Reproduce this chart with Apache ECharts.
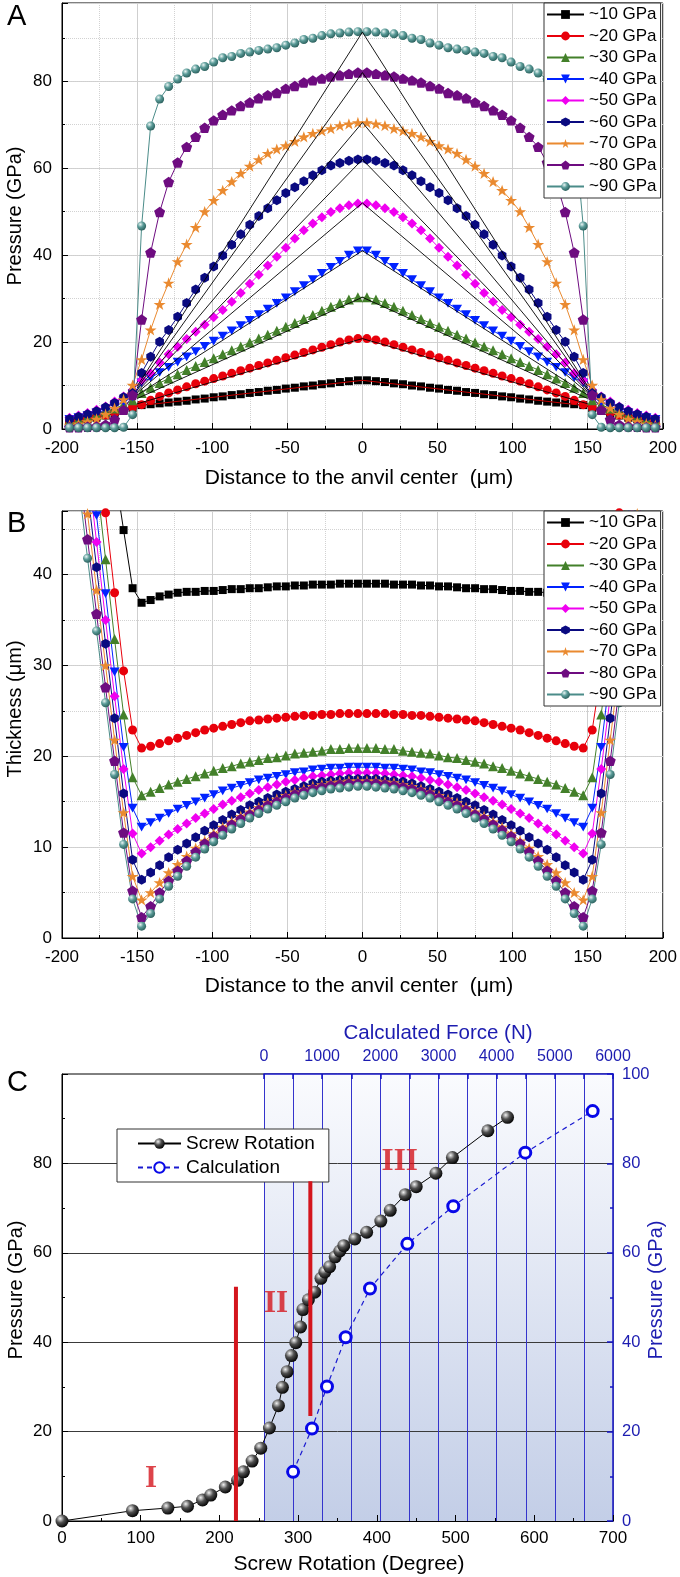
<!DOCTYPE html>
<html><head><meta charset="utf-8">
<script src="https://cdn.jsdelivr.net/npm/echarts@6/dist/echarts.min.js"></script>
<style>html,body{margin:0;padding:0;background:#fff}#c{width:680px;height:1577px}</style>
</head><body><div id="c"></div>
<script>
// ---------- DATA ----------
// distance from anvil centre (um), right half; left half is the mirror image
const X_HALF = [3,9,15,21,27,33,39,45,51,57,63,69,75,81,87,93,99,105,111,117,123,129,135,141,147,153,159,165,171,177,183,189,195];
const NAMES = ['~10 GPa','~20 GPa','~30 GPa','~40 GPa','~50 GPa','~60 GPa','~70 GPa','~80 GPa','~90 GPa'];

// Panel A: pressure (GPa) at X_HALF
const A_10 = [11.2,11.0,10.8,10.5,10.3,10.0,9.8,9.5,9.3,9.0,8.8,8.5,8.3,8.0,7.8,7.5,7.3,7.0,6.8,6.5,6.3,6.1,5.9,5.7,5.5,4.8,4.2,3.6,3.1,2.6,2.2,1.8,1.5];
const A_20 = [20.8,20.5,20.0,19.4,18.8,18.2,17.6,17.0,16.4,15.8,15.2,14.6,14.0,13.4,12.8,12.2,11.6,11.0,10.4,9.7,9.0,8.3,7.5,6.6,5.6,5.0,4.3,3.7,3.2,2.7,2.3,1.9,1.6];
const A_30 = [30.3,29.8,29.0,28.1,27.2,26.2,25.3,24.4,23.5,22.6,21.7,20.8,19.9,19.0,18.1,17.2,16.3,15.4,14.5,13.6,12.6,11.6,10.6,9.5,8.3,6.6,5.6,4.7,4.0,3.3,2.8,2.3,2.0];
const A_40 = [41.0,40.0,38.6,37.2,35.8,34.4,33.0,31.6,30.2,28.9,27.6,26.3,25.0,23.8,22.6,21.4,20.2,19.0,17.8,16.6,15.4,14.2,13.0,11.8,10.6,7.4,6.2,5.2,4.4,3.7,3.1,2.6,2.2];
const A_50 = [51.9,51.5,50.8,49.9,48.7,47.3,45.7,43.8,41.7,39.6,37.6,35.5,33.4,31.3,29.3,27.4,25.7,24.0,22.4,20.7,18.9,17.2,15.3,12.8,11.2,9.0,7.5,6.3,5.2,4.4,3.7,3.1,2.6];
const A_60 = [62.0,61.7,61.2,60.6,59.5,58.4,57.0,55.6,54.3,52.6,50.8,49.0,47.0,44.8,42.4,39.9,37.4,34.8,32.1,29.0,25.8,22.8,20.1,16.6,12.9,8.5,7.3,6.0,5.0,4.1,3.4,2.8,2.3];
const A_70 = [70.5,70.2,69.8,69.1,68.6,68.0,67.2,66.2,65.2,64.4,63.4,62.0,60.5,58.8,56.9,54.9,52.6,50.0,46.4,42.5,38.5,33.6,28.7,22.8,16.0,10.1,6.8,4.8,3.4,2.3,1.7,1.2,0.9];
const A_80 = [82.0,81.7,81.4,81.1,80.6,80.2,79.7,78.9,78.3,77.3,76.8,76.1,75.1,74.3,73.3,72.3,71.0,69.3,67.2,64.9,61.3,56.8,49.9,40.6,25.2,7.8,4.4,2.2,1.0,0.6,0.5,0.4,0.4];
const A_90 = [91.4,91.3,91.1,90.9,90.5,89.9,89.6,88.8,88.3,87.7,87.4,87.1,86.7,86.4,85.7,85.4,84.4,83.4,82.8,81.9,80.5,78.8,75.9,69.7,46.7,3.3,0.4,0.3,0.3,0.3,0.3,0.3,0.3];
// straight reference lines in panel A: edge (+-150 um) and centre values
const TENT_X = [-150, 0, 150];
const TENT_EDGE = [5.3,5.8,7.0,7.8,8.3,8.6,9.0,9.4,9.8];
const TENT_PEAK = [11.2,20.8,30.3,41.0,52.0,62.0,70.5,82.0,91.3];

// Panel B: thickness (um) at X_HALF
const B_10 = [39.0,39.0,39.0,38.9,38.9,38.9,38.8,38.8,38.7,38.7,38.6,38.5,38.5,38.4,38.4,38.3,38.2,38.2,38.1,38.1,38.0,37.8,37.6,37.2,36.9,38.5,44.9,51.5,58.0,64.5,71.0,77.5,84.0];
const B_20 = [24.7,24.7,24.7,24.6,24.6,24.5,24.5,24.4,24.3,24.2,24.1,24.0,23.9,23.7,23.5,23.3,23.1,22.9,22.6,22.3,22.0,21.7,21.4,21.1,20.9,22.9,29.4,38.0,46.8,55.5,64.0,72.5,81.0];
const B_30 = [20.9,20.9,20.8,20.8,20.6,20.5,20.4,20.3,20.1,19.9,19.8,19.6,19.4,19.2,18.9,18.7,18.4,18.1,17.8,17.5,17.2,16.9,16.5,16.1,15.7,17.7,24.6,32.9,41.7,50.5,59.0,67.5,76.0];
const B_40 = [18.8,18.8,18.7,18.7,18.6,18.5,18.3,18.2,18.0,17.8,17.6,17.4,17.1,16.8,16.5,16.2,15.8,15.4,15.0,14.6,14.2,13.7,13.2,12.7,12.2,14.3,21.0,29.3,37.9,46.5,55.0,63.5,72.0];
const B_50 = [18.2,18.2,18.1,18.0,17.9,17.8,17.6,17.4,17.2,16.9,16.6,16.3,15.9,15.5,15.1,14.7,14.2,13.7,13.2,12.6,12.0,11.4,10.7,10.0,9.3,11.5,18.6,26.6,35.0,43.6,52.2,60.5,69.0];
const B_60 = [17.5,17.5,17.4,17.3,17.2,17.0,16.7,16.4,16.1,15.8,15.4,15.0,14.6,14.1,13.6,13.0,12.4,11.8,11.1,10.4,9.7,8.9,8.0,7.2,6.4,8.6,15.9,24.2,32.4,40.8,49.2,57.5,66.0];
const B_70 = [17.3,17.3,17.2,17.1,16.9,16.7,16.4,16.1,15.7,15.3,14.9,14.4,13.9,13.4,12.8,12.2,11.5,10.7,9.9,9.0,8.1,7.2,6.1,5.0,4.2,6.8,13.8,21.8,30.0,38.3,46.7,55.0,63.0];
const B_80 = [17.0,17.0,16.9,16.8,16.6,16.4,16.1,15.8,15.4,15.0,14.6,14.1,13.6,13.1,12.5,11.9,11.2,10.4,9.5,8.5,7.4,6.3,5.0,3.5,2.3,5.2,11.6,19.5,27.6,35.7,43.9,52.2,60.5];
const B_90 = [16.7,16.6,16.5,16.4,16.2,16.0,15.7,15.4,15.0,14.6,14.2,13.7,13.2,12.6,12.0,11.3,10.6,9.8,8.9,7.9,6.8,5.7,4.3,2.7,1.3,4.3,10.3,18.0,25.9,33.8,41.8,50.0,58.0];

// Panel C
const SCREW_DEG = [0,89.5,134.5,159.5,178.5,189,207.5,223,230.5,241.5,252.5,263.5,275,280,286,291.5,297,303,306,313,321,329,334,340,347,353,358,372,387,405,417,436,450,475,496,541,566];
const SCREW_P   = [0,2.3,2.9,3.3,4.7,5.8,7.6,9.1,11.0,13.4,16.3,20.8,25.8,29.9,33.4,37.0,39.9,43.4,47.3,49.5,51.2,54.3,55.7,56.9,59.1,60.4,61.6,63.1,64.6,67.1,69.5,73.0,74.8,77.8,81.3,87.3,90.3];
const CALC_FORCE = [500,825,1083,1404,1822,2464,3254,4492,5650];
const CALC_P     = [11.0,20.7,30.1,41.1,52.0,62.0,70.4,82.4,91.7];
const DIVIDER_DEG = [221, 315.5];
const DIVIDER_FROM = [0, 23.5];
const DIVIDER_TO = [52.4, 76];
const STAGE_TEXT = ['I','II','III'];
const STAGE_DEG = [113, 272, 429];
const STAGE_P = [9.5, 48.5, 80.4];

// ---------- STYLE ----------
const FONT = '"Liberation Sans", Arial, Helvetica, sans-serif';
const BLUE = '#1c1cb0';
function sphere(hi, mid, lo){
  return {type:'radial', x:0.36, y:0.32, r:0.72, colorStops:[{offset:0,color:hi},{offset:0.45,color:mid},{offset:1,color:lo}]};
}
const P_DOWN = 'path://M0,0 L100,0 L50,86.6 Z';
const P_HEX = 'path://M50,0 L93.3,25 L93.3,75 L50,100 L6.7,75 L6.7,25 Z';
const P_STAR = 'path://M50,0 L61.8,35.1 L98.1,35.1 L68.8,56.7 L79.4,90.9 L50,69.1 L20.6,90.9 L31.2,56.7 L1.9,35.1 L38.2,35.1 Z';
const P_PENT = 'path://M50,0 L97.6,34.5 L79.4,90.5 L20.6,90.5 L2.4,34.5 Z';
const STYLES = [
  {line:'#000000', fill:'#000000', symbol:'rect', size:8},
  {line:'#e8000b', fill:'#e8000b', symbol:'circle', size:9},
  {line:'#43802a', fill:'#43802a', symbol:'triangle', size:10},
  {line:'#0022ff', fill:'#0022ff', symbol:P_DOWN, size:10},
  {line:'#f000f0', fill:'#f000f0', symbol:'diamond', size:10},
  {line:'#0a0a80', fill:'#0a0a80', symbol:P_HEX, size:10},
  {line:'#ea8a30', fill:'#ea8a30', symbol:P_STAR, size:12},
  {line:'#6e0c80', fill:'#6e0c80', symbol:P_PENT, size:11},
  {line:'#4b8c89', fill:sphere('#eaf5f4','#5a9b98','#2a5e5b'), symbol:'circle', size:9}
];

function mirror(half){
  const pts = [];
  for (let i = X_HALF.length - 1; i >= 0; i--) pts.push([-X_HALF[i], half[i]]);
  for (let i = 0; i < X_HALF.length; i++) pts.push([X_HALF[i], half[i]]);
  return pts;
}
function zip(a, b){ return a.map((v, i) => [v, b[i]]); }

const A_SETS = [A_10,A_20,A_30,A_40,A_50,A_60,A_70,A_80,A_90];
const B_SETS = [B_10,B_20,B_30,B_40,B_50,B_60,B_70,B_80,B_90];

const series = [];
function addProfile(sets, xi, yi){
  sets.forEach((half, i) => {
    const s = STYLES[i];
    series.push({
      type:'line', name:NAMES[i], xAxisIndex:xi, yAxisIndex:yi,
      data: mirror(half), symbol:s.symbol, symbolSize:s.size, symbolKeepAspect:true,
      showAllSymbol:true, clip:true,
      lineStyle:{color:s.line, width:1}, itemStyle:{color:s.fill},
      emphasis:{disabled:true}, z:2
    });
  });
}
addProfile(A_SETS, 0, 0);
addProfile(B_SETS, 1, 1);
TENT_PEAK.forEach((p, i) => {
  series.push({
    type:'line', name:'ref'+i, xAxisIndex:0, yAxisIndex:0, symbol:'none', silent:true,
    data: zip(TENT_X, [TENT_EDGE[i], p, TENT_EDGE[i]]),
    lineStyle:{color: i === 0 ? '#e00000' : '#000', width:0.9}, z:3
  });
});

// Panel C series
DIVIDER_DEG.forEach((d, i) => {
  series.push({
    type:'line', name:'div'+i, xAxisIndex:2, yAxisIndex:2, symbol:'none', silent:true,
    data: [[d, DIVIDER_FROM[i]], [d, DIVIDER_TO[i]]],
    lineStyle:{color:'#d4151d', width:4}, z:6
  });
});
series.push({
  type:'line', name:'Screw Rotation', xAxisIndex:2, yAxisIndex:2,
  data: zip(SCREW_DEG, SCREW_P), symbol:'circle', symbolSize:13, showAllSymbol:true,
  itemStyle:{color: sphere('#f2f2f2','#505050','#000000')},
  lineStyle:{color:'#000', width:1}, emphasis:{disabled:true}, z:4
});
series.push({
  type:'line', name:'Calculation', xAxisIndex:3, yAxisIndex:3,
  data: zip(CALC_FORCE, CALC_P), symbol:'circle', symbolSize:11, showAllSymbol:true,
  itemStyle:{color:'#ffffff', borderColor:'#0808e8', borderWidth:3},
  lineStyle:{color:'#1a1ad0', width:1.2, type:[5,4]}, emphasis:{disabled:true}, z:4
});
series.push({
  type:'scatter', name:'stages', xAxisIndex:2, yAxisIndex:2, symbolSize:0, silent:true,
  data: zip(STAGE_DEG, STAGE_P),
  label:{show:true, position:'inside', formatter: p => STAGE_TEXT[p.dataIndex],
    color:'#d4151d', fontFamily:'"Liberation Serif", "Times New Roman", serif', fontWeight:'bold', fontSize:31},
  z:7
});

// ---------- AXES ----------
function distAxis(g){
  return {gridIndex:g, type:'value', min:-200, max:200, interval:50, position:'bottom',
    axisLine:{onZero:false, lineStyle:{color:'#000', width:1}},
    axisTick:{inside:true, length:6, lineStyle:{color:'#000'}},
    minorTick:{show:true, splitNumber:2, length:3, lineStyle:{color:'#000'}},
    axisLabel:{color:'#000', fontSize:17, fontFamily:FONT, margin:11},
    splitLine:{show:true, lineStyle:{color:'#cfcfcf', width:1}},
    minorSplitLine:{show:true, lineStyle:{color:'#d2d2d2', type:'dotted', width:1}}};
}
function mainY(g, max, interval){
  return {gridIndex:g, type:'value', min:0, max:max, interval:interval, position:'left',
    axisLine:{show:true, onZero:false, lineStyle:{color:'#000', width:1}},
    axisTick:{inside:true, length:6, lineStyle:{color:'#000'}},
    minorTick:{show:true, splitNumber:2, length:3, lineStyle:{color:'#000'}},
    axisLabel:{color:'#000', fontSize:17, fontFamily:FONT, margin:10, showMaxLabel:false},
    splitLine:{show:true, lineStyle:{color:'#cfcfcf', width:1}}};
}
function minorY(g, max, interval){
  return {gridIndex:g, type:'value', min:0, max:max, interval:interval, position:'right',
    axisLine:{show:false}, axisTick:{show:false}, axisLabel:{show:false},
    splitLine:{show:true, lineStyle:{color:'#d2d2d2', type:'dotted', width:1}}};
}

const option = {
  animation:false,
  backgroundColor:'#ffffff',
  grid:[
    {left:62, top:3, width:602, height:426, show:true, borderColor:'#000', borderWidth:1},
    {left:62, top:511, width:602, height:427, show:true, borderColor:'#000', borderWidth:1},
    {left:62, top:1074, width:551, height:447, show:true, borderColor:'#000', borderWidth:1},
    {left:264, top:1074, width:349, height:447, show:true, borderWidth:0,
      backgroundColor:{type:'linear', x:0, y:0, x2:0, y2:1,
        colorStops:[{offset:0,color:'#fafbfe'},{offset:1,color:'#c3cee7'}]}}
  ],
  xAxis:[
    distAxis(0), distAxis(1),
    {gridIndex:2, type:'value', min:0, max:700, interval:100, position:'bottom',
      axisLine:{onZero:false, lineStyle:{color:'#000', width:1}},
      axisTick:{inside:true, length:6, lineStyle:{color:'#000'}},
      minorTick:{show:true, splitNumber:2, length:3, lineStyle:{color:'#000'}},
      axisLabel:{color:'#000', fontSize:17, fontFamily:FONT, margin:9},
      splitLine:{show:false}},
    {gridIndex:3, type:'value', min:0, max:6000, interval:500, position:'top',
      axisLine:{onZero:false, lineStyle:{color:'#1515c8', width:1.5}},
      axisTick:{inside:true, length:5, lineStyle:{color:'#1515c8', width:1.5}},
      axisLabel:{color:BLUE, fontSize:16, fontFamily:FONT, margin:9,
        formatter: v => (v % 1000 === 0 ? String(v) : '')},
      splitLine:{show:true, showMinLine:true, showMaxLine:false, lineStyle:{color:'#3434cc', width:1}}}
  ],
  yAxis:[
    mainY(0, 98, 20), mainY(1, 47, 10),
    {gridIndex:2, type:'value', min:0, max:100, interval:20, position:'left',
      axisLine:{show:true, onZero:false, lineStyle:{color:'#000', width:1}},
      axisTick:{inside:true, length:6, lineStyle:{color:'#000'}},
      minorTick:{show:true, splitNumber:2, length:3, lineStyle:{color:'#000'}},
      axisLabel:{color:'#000', fontSize:17, fontFamily:FONT, margin:10, showMaxLabel:false},
      splitLine:{show:true, showMinLine:false, showMaxLine:false, lineStyle:{color:'#3a3a3a', width:1}}},
    {gridIndex:3, type:'value', min:0, max:100, interval:20, position:'right',
      axisLine:{show:true, onZero:false, lineStyle:{color:'#1515c8', width:1.5}},
      axisTick:{inside:true, length:6, lineStyle:{color:'#1515c8', width:1.5}},
      minorTick:{show:true, splitNumber:2, length:3, lineStyle:{color:'#1515c8', width:1.5}},
      axisLabel:{color:BLUE, fontSize:16.5, fontFamily:FONT, margin:9},
      splitLine:{show:false}},
    minorY(0, 98, 10), minorY(1, 47, 5)
  ],
  legend:[
    {left:544, top:3, orient:'vertical', data:NAMES, itemWidth:37, itemHeight:11, itemGap:4.5,
      padding:[3,4,3,2], backgroundColor:'#fff', borderColor:'#333', borderWidth:1, selectedMode:false,
      textStyle:{fontSize:17, fontFamily:FONT, color:'#000'}},
    {left:544, top:511, orient:'vertical', data:NAMES, itemWidth:37, itemHeight:11, itemGap:4.5,
      padding:[3,4,3,2], backgroundColor:'#fff', borderColor:'#333', borderWidth:1, selectedMode:false,
      textStyle:{fontSize:17, fontFamily:FONT, color:'#000'}},
    {left:117, top:1129, orient:'vertical', data:['Screw Rotation','Calculation'], itemWidth:43, itemHeight:13, itemGap:5,
      padding:[5,14,5,20], backgroundColor:'#fff', borderColor:'#333', borderWidth:1, selectedMode:false,
      textStyle:{fontSize:19, fontFamily:FONT, color:'#000'}}
  ],
  graphic:[
    {type:'text', x:7, y:17, style:{text:'A', font:'29px '+FONT, fill:'#000', align:'left', verticalAlign:'middle'}},
    {type:'text', x:7, y:524, style:{text:'B', font:'29px '+FONT, fill:'#000', align:'left', verticalAlign:'middle'}},
    {type:'text', x:7, y:1083, style:{text:'C', font:'29px '+FONT, fill:'#000', align:'left', verticalAlign:'middle'}},
    {type:'text', x:359, y:478, style:{text:'Distance to the anvil center  (\u03bcm)', font:'21px '+FONT, fill:'#000', align:'center', verticalAlign:'middle'}},
    {type:'text', x:359, y:986, style:{text:'Distance to the anvil center  (\u03bcm)', font:'21px '+FONT, fill:'#000', align:'center', verticalAlign:'middle'}},
    {type:'text', x:15, y:216, rotation:Math.PI/2, style:{text:'Pressure (GPa)', font:'20px '+FONT, fill:'#000', align:'center', verticalAlign:'middle'}},
    {type:'text', x:15, y:709, rotation:Math.PI/2, style:{text:'Thickness (\u03bcm)', font:'20px '+FONT, fill:'#000', align:'center', verticalAlign:'middle'}},
    {type:'text', x:16, y:1290, rotation:Math.PI/2, style:{text:'Pressure (GPa)', font:'20px '+FONT, fill:'#000', align:'center', verticalAlign:'middle'}},
    {type:'text', x:656, y:1290, rotation:Math.PI/2, style:{text:'Pressure (GPa)', font:'20px '+FONT, fill:BLUE, align:'center', verticalAlign:'middle'}},
    {type:'text', x:349, y:1564, style:{text:'Screw Rotation (Degree)', font:'21px '+FONT, fill:'#000', align:'center', verticalAlign:'middle'}},
    {type:'text', x:438, y:1033, style:{text:'Calculated Force (N)', font:'20.5px '+FONT, fill:BLUE, align:'center', verticalAlign:'middle'}}
  ],
  series: series
};

const chart = echarts.init(document.getElementById('c'), null, {renderer:'canvas', width:680, height:1577});
chart.setOption(option);
</script>
</body></html>
